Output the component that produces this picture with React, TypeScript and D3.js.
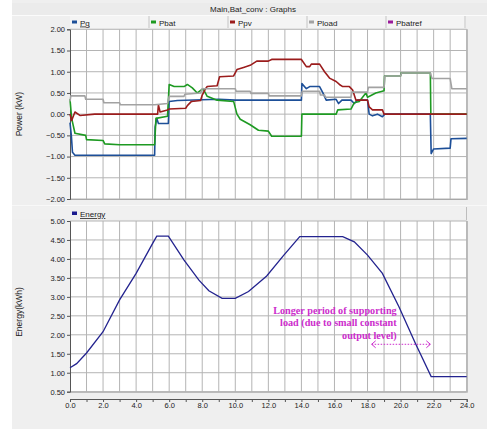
import React, { useEffect, useRef } from 'react';
import * as d3 from 'd3';

// hours vs kW
const pg = [[0, -0.2], [0.08, -0.5], [0.15, -0.9], [0.3, -0.97], [5.12, -0.97], [5.15, -0.3], [5.25, -0.1], [5.35, -0.22], [5.95, -0.22], [6.0, 0.3], [6.5, 0.32], [8, 0.34], [9, 0.35], [10, 0.33], [14.0, 0.33], [14.03, 0.72], [14.3, 0.6], [14.5, 0.65], [15.1, 0.65], [15.3, 0.5], [15.5, 0.33], [16.1, 0.35], [16.25, 0.25], [16.45, 0.33], [17.0, 0.33], [17.2, 0.25], [17.4, 0.33], [18.0, 0.33], [18.1, 0.0], [18.3, -0.04], [18.6, 0.0], [18.9, -0.06], [19.05, 0], [21.8, 0], [21.85, -0.93], [22.0, -0.82], [23.0, -0.8], [23.05, -0.58], [24, -0.57]];
const pbat = [[0, 0.35], [0.1, -0.1], [0.3, -0.45], [0.95, -0.5], [1.0, -0.6], [2.0, -0.62], [2.1, -0.7], [3.0, -0.72], [5.12, -0.72], [5.2, -0.1], [5.9, -0.05], [6.0, 0.7], [6.3, 0.65], [6.9, 0.65], [7.1, 0.7], [7.4, 0.62], [7.7, 0.5], [8.05, 0.6], [8.3, 0.42], [8.9, 0.33], [9.9, 0.3], [10.1, 0.0], [10.3, -0.12], [10.9, -0.25], [11.4, -0.38], [12.0, -0.4], [12.2, -0.52], [14.0, -0.52], [14.03, 0.0], [16.1, 0.0], [16.2, 0.1], [17.0, 0.12], [17.2, 0.27], [17.5, 0.3], [17.9, 0.5], [18.0, 0.4], [18.5, 0.5], [19.0, 0.55], [19.03, 0.9], [20, 0.9], [20.03, 0.97], [21.8, 0.97], [21.83, 0], [24, 0]];
const ppv = [[0, 0], [0.1, -0.15], [0.3, 0.05], [0.6, -0.03], [1.5, 0.0], [5.3, 0.0], [5.35, 0.22], [5.45, 0.05], [5.9, 0.1], [6.0, 0.12], [7.0, 0.14], [7.1, 0.2], [7.35, 0.3], [7.9, 0.32], [8.0, 0.45], [8.2, 0.6], [8.3, 0.65], [8.9, 0.67], [9.05, 0.88], [9.9, 0.9], [10.1, 1.05], [10.5, 1.1], [10.9, 1.15], [11.3, 1.25], [12.0, 1.25], [12.2, 1.29], [14.0, 1.29], [14.3, 1.12], [14.5, 1.12], [14.6, 1.18], [15.1, 1.18], [15.4, 1.0], [15.7, 0.85], [16.1, 0.77], [16.3, 0.7], [16.5, 0.65], [16.9, 0.65], [17.1, 0.57], [17.3, 0.33], [18.0, 0.33], [18.1, 0.17], [18.3, 0.1], [18.9, 0.1], [19.0, 0], [24, 0]];
const pload = [[0, 0.3], [0.05, 0.43], [0.9, 0.43], [0.95, 0.35], [2.0, 0.35], [2.05, 0.27], [3.0, 0.27], [3.05, 0.22], [5.12, 0.22], [5.9, 0.25], [6.0, 0.42], [6.9, 0.42], [6.95, 0.47], [7.9, 0.5], [8.0, 0.6], [10.0, 0.6], [10.05, 0.54], [10.9, 0.54], [10.95, 0.49], [12.0, 0.49], [12.05, 0.43], [14.0, 0.43], [14.05, 0.54], [15.1, 0.54], [15.15, 0.45], [15.4, 0.45], [15.45, 0.4], [17.0, 0.4], [17.05, 0.52], [18.0, 0.52], [18.05, 0.63], [19.0, 0.63], [19.05, 0.9], [20.0, 0.9], [20.05, 0.97], [21.8, 0.97], [21.9, 0.84], [23.0, 0.84], [23.1, 0.6], [24, 0.6]];

// hours vs kWh
const energy = [[0, 1.13], [0.4, 1.24], [1, 1.52], [2, 2.08], [3, 2.92], [4, 3.62], [5, 4.41], [5.25, 4.6], [5.95, 4.6], [6.9, 3.97], [7.8, 3.44], [8.4, 3.16], [9.2, 2.96], [10, 2.96], [10.8, 3.14], [11.9, 3.55], [12.9, 4.08], [13.9, 4.59], [16.5, 4.59], [17.2, 4.45], [18, 4.1], [18.9, 3.62], [19.9, 2.74], [20.9, 1.77], [21.85, 0.9], [24, 0.9]];

const powerNames = ['Pg', 'Pbat', 'Ppv', 'Pload', 'Pbatref'];
const powerColors = ['#1d4f98', '#1e9a22', '#9b1c1c', '#a2a2a2', '#9a1a9a'];
const powerTicks = [2, 1.5, 1, 0.5, 0, -0.5, -1, -1.5, -2];
const energyTicks = [5, 4.5, 4, 3.5, 3, 2.5, 2, 1.5, 1, 0.5];
const hourLabels = ['0.0', '2.0', '4.0', '6.0', '8.0', '10.0', '12.0', '14.0', '16.0', '18.0', '20.0', '22.0', '24.0'];
const noteLines = ['Longer period of supporting', 'load (due to small constant', 'output level)'];

const FONT = '"Liberation Sans", Arial, sans-serif';

const App = () => {
  const ref = useRef(null);

  useEffect(() => {
    const svg = d3.select(ref.current);
    svg.selectAll('*').remove();

    const x = d3.scaleLinear().domain([0, 24]).range([70, 466.7]);
    const yP = d3.scaleLinear().domain([-2, 2]).range([199, 29.3]);
    const yE = d3.scaleLinear().domain([0.5, 5]).range([391.7, 221]);

    // window background
    svg.append('rect').attr('x', 12).attr('y', 0).attr('width', 475).attr('height', 429).attr('fill', '#efefef');
    svg.append('rect').attr('x', 12).attr('y', 3).attr('width', 475).attr('height', 12).attr('fill', '#ebebeb');
    svg.append('line').attr('x1', 12).attr('x2', 487).attr('y1', 15.5).attr('y2', 15.5).attr('stroke', '#fbfbfb');
    svg.append('text').attr('x', 253).attr('y', 12).attr('text-anchor', 'middle')
      .style('font-family', FONT).style('font-size', '8px').attr('fill', '#222')
      .text('Main,Bat_conv : Graphs');

    // legend tabs, top panel
    const tabW = 79;
    svg.append('rect').attr('x', 70).attr('y', 16).attr('width', 396).attr('height', 12).attr('fill', '#f4f4f4');
    powerNames.forEach((name, i) => {
      const tx = 70 + i * tabW;
      svg.append('line').attr('x1', tx + tabW).attr('x2', tx + tabW).attr('y1', 16).attr('y2', 28)
        .attr('stroke', '#c4c4c4');
      svg.append('rect').attr('x', tx + 2).attr('y', 20.5).attr('width', 5).attr('height', 3).attr('fill', powerColors[i]);
      svg.append('text').attr('x', tx + 10).attr('y', 25.5)
        .style('font-family', FONT).style('font-size', '8px').attr('fill', '#222')
        .style('text-decoration', i === 0 ? 'underline' : 'none')
        .text(name);
    });

    const grid = (yScale, ticks) => {
      const [top, bottom] = [yScale.range()[1], yScale.range()[0]];
      svg.append('rect').attr('x', 70).attr('y', top).attr('width', x(24) - 70).attr('height', bottom - top).attr('fill', '#fff');
      const g = svg.append('g').attr('stroke', '#b4b4b4').attr('stroke-width', 1);
      d3.range(1, 25).forEach(h => {
        g.append('line').attr('x1', x(h)).attr('x2', x(h)).attr('y1', top).attr('y2', bottom);
      });
      ticks.forEach(v => {
        g.append('line').attr('x1', 70).attr('x2', x(24)).attr('y1', yScale(v)).attr('y2', yScale(v));
      });
      svg.append('line').attr('x1', x(24) + 0.5).attr('x2', x(24) + 0.5).attr('y1', top).attr('y2', bottom + 1).attr('stroke', '#a8a8a8');
      svg.append('line').attr('x1', 70).attr('x2', x(24)).attr('y1', bottom + 0.5).attr('y2', bottom + 0.5).attr('stroke', '#a8a8a8');
      const axis = d3.axisLeft(yScale).tickValues(ticks).tickSize(3).tickPadding(2).tickFormat(d3.format('.2f'));
      const ag = svg.append('g').attr('transform', 'translate(70,0)').call(axis);
      ag.select('.domain').attr('stroke', '#555');
      ag.selectAll('.tick line').attr('stroke', '#555');
      ag.selectAll('text').style('font-family', FONT).style('font-size', '7.5px').attr('fill', '#222');
    };

    grid(yP, powerTicks);

    const lineP = d3.line().x(d => x(d[0])).y(d => yP(d[1]));
    [pg, pbat, ppv, pload].forEach((s, i) => {
      svg.append('path').datum(s).attr('d', lineP).attr('fill', 'none')
        .attr('stroke', powerColors[i]).attr('stroke-width', 1.6).attr('stroke-linejoin', 'round');
    });

    // bottom panel header
    svg.append('line').attr('x1', 12).attr('x2', 487).attr('y1', 205.5).attr('y2', 205.5).attr('stroke', '#f8f8f8');
    svg.append('rect').attr('x', 12).attr('y', 207).attr('width', 454).attr('height', 12).attr('fill', '#f0f0f0');
    svg.append('line').attr('x1', 466.5).attr('x2', 466.5).attr('y1', 207).attr('y2', 220).attr('stroke', '#bdbdbd');
    svg.append('rect').attr('x', 72).attr('y', 211.5).attr('width', 5).attr('height', 3.5).attr('fill', '#1a1a8e');
    svg.append('text').attr('x', 80).attr('y', 217)
      .style('font-family', FONT).style('font-size', '8px').attr('fill', '#222')
      .style('text-decoration', 'underline').text('Energy');

    grid(yE, energyTicks);

    svg.append('path').datum(energy).attr('d', d3.line().x(d => x(d[0])).y(d => yE(d[1])))
      .attr('fill', 'none').attr('stroke', '#23238f').attr('stroke-width', 1.3);

    // x axis sits a bit below the plot
    const xa = svg.append('g').attr('transform', 'translate(0,399)')
      .call(d3.axisBottom(x).tickValues(d3.range(0, 25)).tickSize(3).tickPadding(1)
        .tickFormat(d => (d % 2 === 0 ? hourLabels[d / 2] : '')));
    xa.select('.domain').attr('stroke', '#555');
    xa.selectAll('.tick line').attr('stroke', '#555');
    xa.selectAll('text').style('font-family', FONT).style('font-size', '7.5px').attr('fill', '#222');

    // axis titles
    svg.append('text').attr('transform', `translate(22,${yP(0)}) rotate(-90)`).attr('text-anchor', 'middle')
      .style('font-family', FONT).style('font-size', '8.5px').attr('fill', '#222').text('Power (kW)');
    svg.append('text').attr('transform', 'translate(22,312) rotate(-90)').attr('text-anchor', 'middle')
      .style('font-family', FONT).style('font-size', '8.5px').attr('fill', '#222').text('Energy(kWh)');

    // annotation
    const pink = '#cc2ccc';
    noteLines.forEach((t, i) => {
      svg.append('text').attr('x', 396.7).attr('y', yE(2.56) + i * 12.5).attr('text-anchor', 'end')
        .style('font-family', '"Liberation Serif", "Times New Roman", serif').style('font-weight', 'bold')
        .style('font-size', '10.2px').attr('fill', pink).text(t);
    });
    const ay = yE(1.75);
    const ax0 = x(18.25), ax1 = x(21.8);
    svg.append('line').attr('x1', ax0).attr('x2', ax1).attr('y1', ay).attr('y2', ay)
      .attr('stroke', pink).attr('stroke-width', 1).attr('stroke-dasharray', '1.5,1.5');
    svg.append('path').attr('d', `M${ax0 + 4},${ay - 3.5}L${ax0},${ay}L${ax0 + 4},${ay + 3.5}`)
      .attr('fill', 'none').attr('stroke', pink).attr('stroke-width', 1);
    svg.append('path').attr('d', `M${ax1 - 4},${ay - 3.5}L${ax1},${ay}L${ax1 - 4},${ay + 3.5}`)
      .attr('fill', 'none').attr('stroke', pink).attr('stroke-width', 1);
  }, []);

  return (
    <div style={{ position: 'absolute', left: 0, top: 0 }}>
      <svg ref={ref} width={487} height={429} style={{ display: 'block', background: '#fff' }} />
    </div>
  );
};

export default App;
